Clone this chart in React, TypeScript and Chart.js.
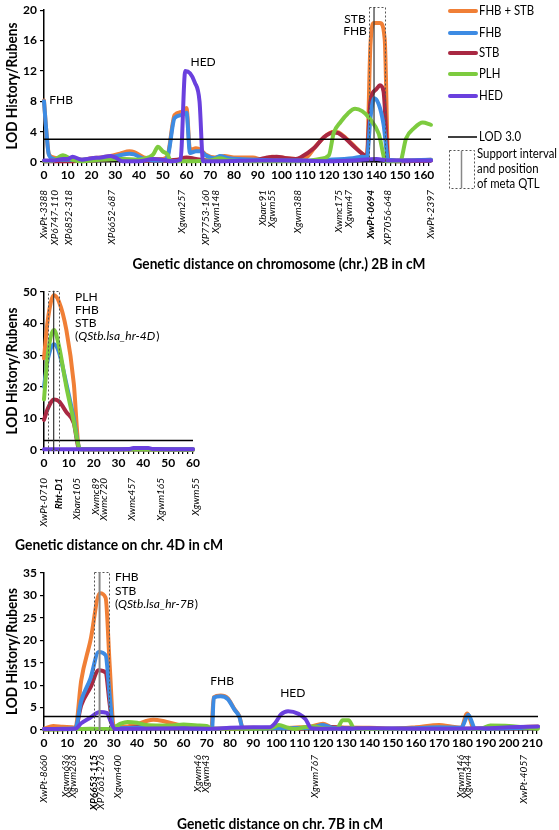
import React, { useEffect, useRef } from 'react';
import { Chart, registerables } from 'chart.js';
Chart.register(...registerables);

const FONT = 'Lato, "Noto Sans", "Liberation Sans", sans-serif';
type Pt = [number, number];

// ---------- series names / colours ----------
const SERIES_NAMES = ['FHB + STB', 'FHB', 'STB', 'PLH', 'HED'];
const SERIES_COLORS = ['#F07F36', '#3D8BE3', '#A92842', '#7DCB3F', '#6A40DE'];
const SERIES_ORDER = [5, 3, 4, 2, 1];

// ---------- chr. 2B ----------
const b2_FHBSTB: Pt[] = [[0,8.1],[1,4],[2,1.1],[4,0.6],[8,0.4],[12,0.4],[16,0.3],[20,0.5],[24,0.6],[28,0.8],[32,1.1],[36,1.4],[38,1.3],[42,0.6],[46,0.4],[50,0.4],[52,0.8],[55,6.2],[58,6.6],[60,7.1],[61.5,1.6],[64,1.8],[66,1.6],[68,1.0],[72,0.6],[76,0.8],[80,0.6],[88,0.6],[92,0.3],[96,0.7],[100,0.6],[106,0.4],[110,0.5],[114,1.9],[118,3.3],[122,4.0],[124,3.9],[127,3.2],[131,2.0],[134,1.1],[136,0.8],[137.5,15.5],[139,18.3],[141.5,18.3],[143.5,16.2],[145,0.3],[150,0.2],[156,0.2],[163,0.3]];
const b2_FHB: Pt[] = [[0,8],[1,4],[2,1],[4,0.4],[8,0.3],[12,0.3],[16,0.3],[20,0.4],[24,0.5],[28,0.6],[32,0.9],[36,1.1],[38,1.0],[42,0.4],[46,0.2],[50,0.2],[52,0.6],[55,5.8],[58,6.2],[60,6.5],[61.5,1.2],[64,1.4],[66,1.4],[68,0.9],[72,0.5],[74,0.8],[78,0.5],[90,0.3],[100,0.2],[110,0.2],[120,0.3],[130,0.5],[134,0.7],[136,0.6],[137.5,5.8],[139,8.4],[141,7.6],[143,5.0],[145,0.3],[150,0.2],[163,0.3]];
const b2_STB: Pt[] = [[0,0.1],[10,0.1],[20,0.2],[30,0.4],[40,0.2],[50,0.2],[56,0.3],[60,0.6],[64,0.4],[70,0.2],[80,0.2],[90,0.3],[94,0.6],[98,0.7],[102,0.5],[106,0.4],[108,0.6],[114,1.9],[118,3.3],[122,3.9],[124,3.8],[127,3.1],[131,1.9],[134,1.1],[136,0.8],[137.5,8.0],[140,9.6],[141.5,10.1],[143,9.3],[145,0.2],[150,0.1],[163,0.2]];
const b2_PLH: Pt[] = [[0,0.1],[4,0.2],[8,0.9],[12,0.3],[16,0.1],[24,0.3],[32,0.4],[40,0.3],[44,0.6],[46,1.0],[48,2.0],[50,1.4],[52,1.0],[53.5,0.1],[60,0.1],[70,0.2],[74,0.5],[78,0.2],[90,0.1],[110,0.1],[116,0.4],[120,0.9],[122,3.8],[125,5.3],[128,6.4],[131,7.0],[134,6.7],[137,5.8],[141,3.7],[144,0.1],[150,0.1],[152.5,3.1],[156,4.5],[159.5,5.2],[163,4.9]];
const b2_HED: Pt[] = [[0,0.2],[4,0.2],[8,0.4],[10,0.4],[12,0.7],[16,0.3],[20,0.5],[24,0.6],[28,0.8],[30,0.6],[33,0.1],[40,0.1],[46,0.4],[50,0.3],[54,0.1],[57.5,0.3],[59.5,12],[61.5,11.7],[63.5,10.5],[65.5,8],[67,0.1],[75,0.1],[90,0.2],[100,0.2],[120,0.1],[130,0.2],[140,0.4],[145,0.2],[163,0.2]];
const b2_markerNames = ['XwPt-3388','XP6747-110','XP6852-318','XP6652-687','Xgwm257','XP7753-160','Xgwm148','Xbarc91','Xgwm55','Xgwm388','Xwmc175','Xgwm47','XwPt-0694','XP7056-648','XwPt-2397'];
const b2_markerCM = [0,4.5,10.4,28.6,58.1,68.2,72.4,92.3,96.1,107.1,124,128.2,137.5,144.7,163];
const b2_boldMarkers = ['XwPt-0694'];
const b2_qtl = [137, 143.6, 139, 20.4]; // left, right, position, top
const b2_notes: [string, number, number, CanvasTextAlign][] = [['FHB', 7.2, 8.1, 'center'], ['HED', 67, 13.2, 'center'], ['STB', 131, 18.8, 'center'], ['FHB', 131, 17.3, 'center']];

// ---------- chr. 4D ----------
const d4_FHBSTB: Pt[] = [[0,29],[1.5,41],[4,49],[6,47],[9,38],[12,21],[14,1],[15,0.3],[20,0.2],[30,0.2],[40,0.2],[50,0.2],[60,0.2]];
const d4_FHB: Pt[] = [[0,20],[1.5,28.5],[4,33.5],[6,31],[9,21],[12,10],[14,1],[15,0.2],[30,0.2],[60,0.2]];
const d4_STB: Pt[] = [[0,9.5],[1.5,13],[4,16],[6,15.4],[9,12],[12,8.5],[14,0.5],[15,0.2],[60,0.1]];
const d4_PLH: Pt[] = [[0,16],[1.5,30],[4,38],[6,33],[9,20],[12,9],[14,1],[15,0.2],[60,0.1]];
const d4_HED: Pt[] = [[0,0.2],[15,0.2],[34,0.3],[36,0.6],[42,0.6],[44,0.3],[60,0.2]];
const d4_markerNames = ['XwPt-0710','Rht-D1','Xbarc105','Xwmc89','Xwmc720','Xwmc457','Xgwm165','Xgwm55'];
const d4_markerCM = [0,6,13.3,20.8,24,35.5,47,61];
const d4_boldMarkers = ['Rht-D1'];
const d4_qtl = [1.6, 6.1, 3.9, 50.4];
const d4_notes: [string, number, number, CanvasTextAlign][] = [['PLH', 12.5, 48.4, 'left'], ['FHB', 12.5, 44.2, 'left'], ['STB', 12.5, 40.2, 'left']];
const d4_italicNote = ['QStb.lsa_hr-4D', 12.5, 35.9];

// ---------- chr. 7B ----------
const b7_FHBSTB: Pt[] = [[0,0.3],[4,0.9],[8,0.7],[12,0.6],[13.5,0.5],[16,11],[20,20],[24,30.5],[26.5,29.5],[28.3,14],[30,0.8],[35,0.8],[40,1.3],[44,2.0],[47,2.3],[52,1.9],[58,1.1],[65,0.6],[72,0.3],[73,7.3],[76,7.7],[79,7.1],[82,4.6],[84,3.1],[85.5,0.5],[90,0.5],[100,0.4],[110,0.6],[115,0.8],[120,1.4],[124,0.6],[140,0.5],[150,0.3],[160,0.6],[170,1.1],[175,0.8],[179.5,0.5],[182,3.7],[185,0.3],[190,0.3],[200,0.5],[212.5,0.8]];
const b7_FHB: Pt[] = [[0,0.2],[8,0.3],[13.5,0.4],[16,6.5],[20,11.5],[23.5,17.4],[26.5,16.7],[28.2,8],[29.8,0.4],[40,0.5],[50,0.6],[60,0.4],[72.3,0.3],[73,7.2],[76,7.5],[79,6.9],[82,4.5],[84,3],[85.5,0.4],[100,0.4],[115,0.5],[120,1.1],[124,0.5],[140,0.3],[160,0.4],[170,0.6],[179.5,0.5],[182.5,3.4],[185.5,0.3],[200,0.4],[212.5,0.6]];
const b7_STB: Pt[] = [[0,0.1],[10,0.2],[13.5,0.3],[16,5.5],[20,9.5],[23.5,13.3],[26.5,12.8],[28.2,6],[29.8,0.3],[40,0.6],[50,0.8],[60,0.4],[80,0.3],[100,0.5],[110,0.3],[120,0.8],[130,0.4],[150,0.3],[180,0.3],[200,0.4],[212.5,0.6]];
const b7_PLH: Pt[] = [[0,0.1],[14,0.2],[20,0.3],[28,0.2],[30,0.5],[33,1.4],[36,1.8],[40,1.6],[44,1.1],[50,1.0],[55,1.0],[60,1.2],[66,1.0],[70,0.9],[72,0.3],[90,0.3],[98,0.5],[101,1.1],[105,0.5],[108,0.2],[112,0.6],[116,0.8],[120,0.4],[126,0.3],[128.5,2.2],[131,2.2],[133.5,0.3],[140,0.2],[160,0.2],[180,0.2],[188,0.3],[192,1.0],[200,0.9],[206,0.6],[212.5,0.3]];
const b7_HED: Pt[] = [[0,0.2],[13.5,0.3],[16,1.5],[20,2.8],[24,4.0],[27,3.8],[29,1.5],[30.5,0.2],[40,0.3],[60,0.4],[72,0.3],[80,0.5],[90,0.6],[97,0.6],[99.5,1.6],[102,3.5],[105,4.2],[109.5,3.6],[112.5,2.4],[115,0.4],[120,0.3],[140,0.4],[160,0.3],[190,0.4],[200,0.6],[212.5,0.8]];
const b7_markerNames = ['XwPt-8660','Xgwm636','Xgwm263','XP6653-115','XP7661-276','Xgwm400','Xgwm46','Xgwm43','Xgwm767','Xgwm146','Xgwm344','XwPt-4057'];
const b7_markerCM = [0,9.4,12.5,21.2,24.4,31.6,66.2,69.4,116.3,179.2,182.4,206.5];
const b7_boldMarkers = ['XP6653-115'];
const b7_qtl = [21.4, 27.9, 23.9, 35.2];
const b7_notes: [string, number, number, CanvasTextAlign][] = [['FHB', 30.5, 34.1, 'left'], ['STB', 30.5, 31.0, 'left'], ['FHB', 76.6, 10.9, 'center'], ['HED', 107, 8.2, 'center']];
const b7_italicNote = ['QStb.lsa_hr-7B', 30.5, 28.1];

const LEGEND_ROWS_Y = [11, 33, 53, 74, 96];

interface Panel {
  canvasTop: number; canvasH: number;
  area: { left: number; right: number; top: number; bottom: number };
  xMax: number; yMax: number; yStep: number;
  series: Pt[][];
  markerNames: string[]; markerCM: number[]; bold: string[];
  qtl: number[]; qtlLineColor: string; qtlLineWidth: number;
  notes: [string, number, number, CanvasTextAlign][];
  italicNote: any[] | null;
  markerTop: number; title: string; titleX: number; titleY: number; titleW: number;
  legend: boolean;
}

const PANELS: Panel[] = [
  {
    canvasTop: 0, canvasH: 280, area: { left: 44, right: 431, top: 6, bottom: 162 },
    xMax: 163, yMax: 20, yStep: 2,
    series: [b2_FHBSTB, b2_FHB, b2_STB, b2_PLH, b2_HED],
    markerNames: b2_markerNames, markerCM: b2_markerCM, bold: b2_boldMarkers,
    qtl: b2_qtl, qtlLineColor: '#333', qtlLineWidth: 1.2,
    notes: b2_notes, italicNote: null,
    markerTop: 190, title: 'Genetic distance on chromosome (chr.) 2B in cM', titleX: 279, titleY: 264, titleW: 293,
    legend: true,
  },
  {
    canvasTop: 280, canvasH: 275, area: { left: 44, right: 193, top: 12, bottom: 170 },
    xMax: 60, yMax: 50, yStep: 5,
    series: [d4_FHBSTB, d4_FHB, d4_STB, d4_PLH, d4_HED],
    markerNames: d4_markerNames, markerCM: d4_markerCM, bold: d4_boldMarkers,
    qtl: d4_qtl, qtlLineColor: '#333', qtlLineWidth: 1.2,
    notes: d4_notes, italicNote: d4_italicNote,
    markerTop: 198, title: 'Genetic distance on chr. 4D in cM', titleX: 119, titleY: 265, titleW: 208,
    legend: false,
  },
  {
    canvasTop: 555, canvasH: 275, area: { left: 44, right: 538, top: 18, bottom: 175 },
    xMax: 212.5, yMax: 35, yStep: 5,
    series: [b7_FHBSTB, b7_FHB, b7_STB, b7_PLH, b7_HED],
    markerNames: b7_markerNames, markerCM: b7_markerCM, bold: b7_boldMarkers,
    qtl: b7_qtl, qtlLineColor: '#888', qtlLineWidth: 2,
    notes: b7_notes, italicNote: b7_italicNote,
    markerTop: 200, title: 'Genetic distance on chr. 7B in cM', titleX: 280, titleY: 269, titleW: 206,
    legend: false,
  },
];

function drawText(ctx: CanvasRenderingContext2D, text: string, x: number, y: number, font: string,
  align: CanvasTextAlign, maxW?: number, rotate = 0, sxForce?: number) {
  ctx.save();
  ctx.font = font;
  const w = ctx.measureText(text).width;
  let sx = sxForce ?? (maxW && w > maxW ? maxW / w : 1);
  ctx.translate(x, y);
  if (rotate) ctx.rotate(rotate);
  ctx.scale(sx, 1);
  ctx.textAlign = align;
  ctx.textBaseline = 'middle';
  ctx.fillStyle = '#000';
  ctx.fillText(text, 0, 0);
  ctx.restore();
}

function makeOverlay(p: Panel) {
  return {
    id: 'overlay',
    afterDatasetsDraw(chart: any) {
      const ctx: CanvasRenderingContext2D = chart.ctx;
      const xs = chart.scales.x, ys = chart.scales.y;
      const ca = chart.chartArea;
      // support interval box
      const [ql, qr, qp, qt] = p.qtl;
      const x1 = xs.getPixelForValue(ql), x2 = xs.getPixelForValue(qr);
      const yt = ys.getPixelForValue(qt), yb = ca.bottom;
      ctx.save();
      ctx.strokeStyle = '#555';
      ctx.lineWidth = 1;
      ctx.setLineDash([2, 2]);
      ctx.strokeRect(Math.round(x1) + 0.5, Math.round(yt) + 0.5, Math.round(x2 - x1), Math.round(yb - yt));
      ctx.setLineDash([]);
      ctx.strokeStyle = p.qtlLineColor;
      ctx.lineWidth = p.qtlLineWidth;
      const xp = xs.getPixelForValue(qp);
      ctx.beginPath(); ctx.moveTo(xp, yt); ctx.lineTo(xp, yb); ctx.stroke();
      ctx.restore();
      // notes
      for (const [t, x, y, al] of p.notes) {
        drawText(ctx, t, xs.getPixelForValue(x), ys.getPixelForValue(y), `12px ${FONT}`, al);
      }
      if (p.italicNote) {
        const [t, x, y] = p.italicNote;
        let px = xs.getPixelForValue(x);
        const py = ys.getPixelForValue(y);
        ctx.save();
        ctx.textBaseline = 'middle'; ctx.textAlign = 'left'; ctx.fillStyle = '#000';
        ctx.font = `12px ${FONT}`; ctx.fillText('(', px, py); px += ctx.measureText('(').width;
        ctx.font = `italic 12px ${FONT}`; ctx.fillText(t, px, py); px += ctx.measureText(t).width + 1;
        ctx.font = `12px ${FONT}`; ctx.fillText(')', px, py);
        ctx.restore();
      }
    },
    afterDraw(chart: any) {
      const ctx: CanvasRenderingContext2D = chart.ctx;
      const xs = chart.scales.x;
      const ca = chart.chartArea;
      // marker labels
      p.markerNames.forEach((n, i) => {
        const x = xs.getPixelForValue(p.markerCM[i]);
        const b = p.bold.includes(n);
        drawText(ctx, n, x, p.markerTop, `italic ${b ? 'bold ' : ''}10px ${FONT}`, 'right', undefined, -Math.PI / 2);
      });
      // axis titles
      drawText(ctx, p.title, p.titleX, p.titleY, `bold 15px ${FONT}`, 'center', p.titleW);
      drawText(ctx, 'LOD History/Rubens', 12, (ca.top + ca.bottom) / 2, `bold 15px ${FONT}`, 'center', 127, -Math.PI / 2);
      // legend
      if (p.legend) {
        ctx.save();
        ctx.font = `13px ${FONT}`;
        const sx = Math.min(1, 80 / ctx.measureText('Support interval').width);
        ctx.restore();
        SERIES_NAMES.forEach((n, i) => {
          const y = LEGEND_ROWS_Y[i];
          ctx.save();
          ctx.strokeStyle = SERIES_COLORS[i]; ctx.lineWidth = 4; ctx.lineCap = 'round';
          ctx.beginPath(); ctx.moveTo(450, y); ctx.lineTo(476, y); ctx.stroke();
          ctx.restore();
          drawText(ctx, n, 479, y, `13px ${FONT}`, 'left', undefined, 0, sx);
        });
        ctx.save();
        ctx.strokeStyle = '#000'; ctx.lineWidth = 1.5;
        ctx.beginPath(); ctx.moveTo(448, 137); ctx.lineTo(477, 137); ctx.stroke();
        ctx.strokeStyle = '#555'; ctx.lineWidth = 1; ctx.setLineDash([2, 2]);
        ctx.strokeRect(449.5, 150.5, 25, 38);
        ctx.setLineDash([]);
        ctx.strokeStyle = '#888'; ctx.lineWidth = 1.5;
        ctx.beginPath(); ctx.moveTo(461.5, 151); ctx.lineTo(461.5, 188); ctx.stroke();
        ctx.restore();
        drawText(ctx, 'LOD 3.0', 479, 137, `13px ${FONT}`, 'left', undefined, 0, sx);
        drawText(ctx, 'Support interval', 477, 154, `13px ${FONT}`, 'left', undefined, 0, sx);
        drawText(ctx, 'and position', 477, 169, `13px ${FONT}`, 'left', undefined, 0, sx);
        drawText(ctx, 'of meta QTL', 477, 184, `13px ${FONT}`, 'left', undefined, 0, sx);
      }
    },
  };
}

function PanelChart({ p }: { p: Panel }) {
  const ref = useRef<HTMLCanvasElement>(null);
  useEffect(() => {
    if (!ref.current) return;
    const datasets: any[] = SERIES_NAMES.map((name, i) => ({
      label: name,
      data: p.series[i].map(([x, y]) => ({ x, y })),
      borderColor: SERIES_COLORS[i],
      backgroundColor: SERIES_COLORS[i],
      borderWidth: 4,
      pointRadius: 0,
      cubicInterpolationMode: 'monotone',
      borderCapStyle: 'round',
      borderJoinStyle: 'round',
      order: SERIES_ORDER[i],
      clip: 6,
    }));
    datasets.push({
      label: 'LOD 3.0',
      data: [{ x: 0, y: 3 }, { x: p.xMax, y: 3 }],
      borderColor: '#000', backgroundColor: '#000', borderWidth: 1.5, pointRadius: 0, order: 0,
    });
    const tickFont = { family: FONT, size: 12, weight: 'bold' as const };
    const chart = new Chart(ref.current, {
      type: 'line',
      data: { datasets },
      plugins: [makeOverlay(p) as any],
      options: {
        responsive: false,
        animation: false,
        devicePixelRatio: 1,
        layout: { padding: { left: 0, right: 559 - p.area.right, top: p.area.top, bottom: 0 } },
        plugins: { legend: { display: false }, tooltip: { enabled: false } },
        scales: {
          x: {
            type: 'linear', min: 0, max: p.xMax,
            afterFit: (s: any) => { s.height = p.canvasH - p.area.bottom; },
            border: { color: '#000', width: 1.5 },
            grid: { drawOnChartArea: false, drawTicks: true, tickLength: 4, color: '#000', lineWidth: 1.2 },
            ticks: {
              stepSize: 2, autoSkip: false, maxRotation: 0, minRotation: 0, includeBounds: false,
              callback: (v: any) => (Math.round(v) % 10 === 0 ? String(v) : ''),
              font: tickFont, color: '#000', padding: 2,
            },
          },
          y: {
            type: 'linear', min: 0, max: p.yMax,
            afterFit: (s: any) => { s.width = p.area.left; },
            border: { color: '#000', width: 1.5 },
            grid: { drawOnChartArea: false, drawTicks: true, tickLength: 4, color: '#000', lineWidth: 1.2 },
            ticks: { stepSize: p.yStep, font: tickFont, color: '#000', padding: 3 },
          },
        },
      } as any,
    });
    return () => chart.destroy();
  }, [p]);
  return (
    <canvas ref={ref} width={559} height={p.canvasH}
      style={{ position: 'absolute', left: 0, top: p.canvasTop, width: 559, height: p.canvasH }} />
  );
}

export default function App() {
  return (
    <div style={{ position: 'absolute', left: 0, top: 0, width: 559, height: 830, background: '#fff', overflow: 'hidden' }}>
      {PANELS.map((p, i) => <PanelChart key={i} p={p} />)}
    </div>
  );
}
